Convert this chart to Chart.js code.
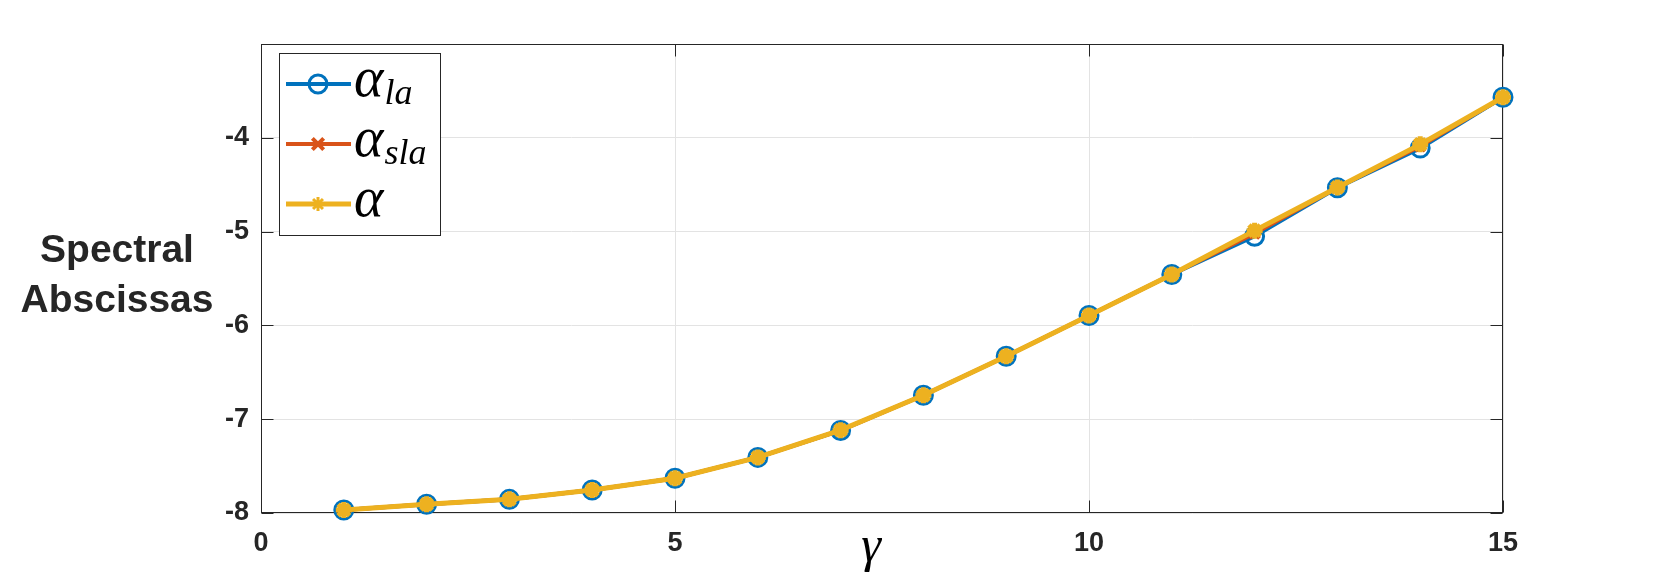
<!DOCTYPE html>
<html><head><meta charset="utf-8">
<script src="https://cdn.jsdelivr.net/npm/chart.js@4/dist/chart.umd.min.js"></script>
<style>html,body{margin:0;padding:0;background:#fff}#wrap{width:1661px;height:585px;position:relative}</style>
</head><body><div id="wrap"><canvas id="c"></canvas></div>
<script>
const gammaValues = [1,2,3,4,5,6,7,8,9,10,11,12,13,14,15];
const alphaLa  = [-7.968,-7.907,-7.854,-7.755,-7.630,-7.407,-7.120,-6.745,-6.329,-5.894,-5.457,-5.050,-4.532,-4.110,-3.568];
const alphaSla = [-7.968,-7.907,-7.854,-7.755,-7.630,-7.407,-7.118,-6.745,-6.329,-5.894,-5.457,-5.020,-4.530,-4.090,-3.568];
const alphaVal = [-7.968,-7.907,-7.854,-7.755,-7.630,-7.407,-7.117,-6.745,-6.329,-5.894,-5.457,-4.990,-4.529,-4.070,-3.568];
const xTicks = [0,5,10,15];
const yTicks = [-8,-7,-6,-5,-4];
const yTitleLines = ['Spectral','Abscissas'];
const xTitle = 'γ';
const legendLabels = [['α','la'],['α','sla'],['α','']];

const pts = arr => gammaValues.map((g,i)=>({x:g,y:arr[i]}));
const AX = '#262626';

const framePlugin = {
  id:'frame',
  beforeDatasetsDraw(chart){
    const {ctx, chartArea:a, scales:{x,y}} = chart;
    ctx.save();
    ctx.strokeStyle = AX; ctx.lineWidth = 1;
    const L = Math.round(a.left)+0.5, R = Math.round(a.right)-0.5, T = Math.round(a.top)+0.5, B = Math.round(a.bottom)-0.5;
    ctx.strokeRect(L, T, R-L, B-T);
    const tl = 12;
    ctx.beginPath();
    yTicks.forEach(v=>{const py=Math.round(y.getPixelForValue(v))+0.5; ctx.moveTo(L,py); ctx.lineTo(L+tl,py); ctx.moveTo(R,py); ctx.lineTo(R-tl,py);});
    xTicks.forEach(v=>{const px=Math.round(x.getPixelForValue(v))+0.5; ctx.moveTo(px,B); ctx.lineTo(px,B-tl); ctx.moveTo(px,T); ctx.lineTo(px,T+tl);});
    ctx.stroke();
    ctx.restore();
  },
  afterDraw(chart){
    const ctx = chart.ctx;
    ctx.save();
    ctx.fillStyle = AX;
    ctx.font = 'bold 39px "Liberation Sans", Arial, sans-serif';
    ctx.textAlign = 'center'; ctx.textBaseline = 'alphabetic';
    ctx.fillText(yTitleLines[0], 117, 262);
    ctx.fillText(yTitleLines[1], 117, 312);
    ctx.font = 'italic 50px "Liberation Serif", serif';
    ctx.fillStyle = '#000';
    ctx.fillText(xTitle, 871, 561);
    ctx.textAlign = 'left';
    ctx.fillStyle = '#fff';
    ctx.fillRect(279, 53, 162, 183);
    ctx.strokeStyle = AX; ctx.lineWidth = 1;
    ctx.strokeRect(279.5, 53.5, 161, 182);
    const legendMarker = {circle:{r:9,w:3}, crossRot:{r:8,w:4}, star:{r:7,w:3}};
    chart.data.datasets.forEach((ds,i)=>{
      const cy = 84 + i*60;
      ctx.strokeStyle = ds.borderColor; ctx.lineWidth = ds.borderWidth;
      ctx.beginPath(); ctx.moveTo(286, cy); ctx.lineTo(351, cy); ctx.stroke();
      const m = legendMarker[ds.pointStyle];
      ctx.strokeStyle = ds.pointBorderColor; ctx.fillStyle = ds.pointBackgroundColor; ctx.lineWidth = m.w;
      Chart.helpers.drawPoint(ctx, {pointStyle: ds.pointStyle, radius: m.r, borderWidth: m.w, rotation: 0}, 318, cy);
      ctx.fillStyle = '#000';
      ctx.font = 'italic 56px "Liberation Serif", serif';
      ctx.fillText(legendLabels[i][0], 354, cy + 12);
      const w = ctx.measureText(legendLabels[i][0]).width;
      if (legendLabels[i][1]) {
        ctx.font = 'italic 36px "Liberation Serif", serif';
        ctx.fillText(legendLabels[i][1], 354 + w + 1, cy + 20);
      }
    });
    ctx.restore();
  }
};

new Chart(document.getElementById('c'), {
  type:'line',
  data:{ datasets:[
    {label:'alpha_la', order:2, data:pts(alphaLa), borderColor:'#0072BD', borderWidth:4, pointStyle:'circle', pointRadius:9, pointBorderWidth:3, pointBorderColor:'#0072BD', pointBackgroundColor:'rgba(0,0,0,0)', clip:false},
    {label:'alpha_sla', order:1, data:pts(alphaSla), borderColor:'#D95319', borderWidth:4, pointStyle:'crossRot', pointRadius:7, pointBorderWidth:4, pointBorderColor:'#D95319', pointBackgroundColor:'#D95319', clip:false},
    {label:'alpha', order:0, data:pts(alphaVal), borderColor:'#EDB120', borderWidth:5, pointStyle:'star', pointRadius:8, pointBorderWidth:5, pointBorderColor:'#EDB120', pointBackgroundColor:'#EDB120', clip:false}
  ]},
  options:{
    responsive:true, maintainAspectRatio:false, animation:false,
    layout:{padding:{left:0, top:44, right:158, bottom:0}},
    plugins:{legend:{display:false}, tooltip:{enabled:false}},
    elements:{line:{tension:0}},
    scales:{
      x:{type:'linear', min:0, max:15,
        afterBuildTicks:s=>{s.ticks = xTicks.map(v=>({value:v}));},
        afterFit:s=>{s.height = 72;},
        grid:{color:'#e3e3e3', drawTicks:false, lineWidth:1},
        border:{display:false},
        ticks:{font:{family:'"Liberation Sans", Arial, sans-serif', size:27, weight:'bold'}, color:AX, padding:14, maxRotation:0}
      },
      y:{type:'linear', min:-8, max:-3,
        afterBuildTicks:s=>{s.ticks = yTicks.map(v=>({value:v}));},
        afterFit:s=>{s.width = 261;},
        grid:{color:'#e3e3e3', drawTicks:false, lineWidth:1},
        border:{display:false},
        ticks:{font:{family:'"Liberation Sans", Arial, sans-serif', size:27, weight:'bold'}, color:AX, padding:12}
      }
    }
  },
  plugins:[framePlugin]
});
</script></body></html>
